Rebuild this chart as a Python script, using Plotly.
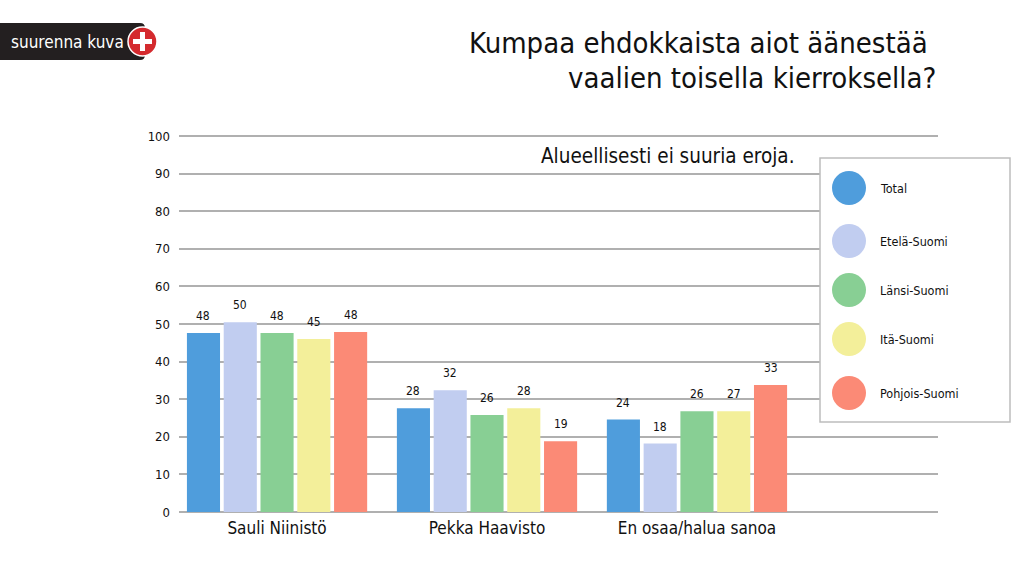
import plotly.graph_objects as go

# data
candidates = ['Sauli Niinistö', 'Pekka Haavisto', 'En osaa/halua sanoa']
regions = ['Total', 'Etelä-Suomi', 'Länsi-Suomi', 'Itä-Suomi', 'Pohjois-Suomi']
total = [47.6, 27.6, 24.6]
etela = [50.5, 32.4, 18.2]
lansi = [47.6, 25.8, 26.8]
ita = [46.0, 27.6, 26.8]
pohjois = [47.9, 18.8, 33.8]
label_total = ['48', '28', '24']
label_etela = ['50', '32', '18']
label_lansi = ['48', '26', '26']
label_ita = ['45', '28', '27']
label_pohjois = ['48', '19', '33']

colors = ['#4f9ddc', '#c1cdf0', '#88cf94', '#f3ef9a', '#fb8a76']
FONT = 'Liberation Sans Narrow, DejaVu Sans Condensed, sans-serif'

W, H = 1024, 576
L, R, T, B = 179, 938, 135, 512   # plot area in pixels
BARGAP = 0.124
SLOT = 210 * (1 - BARGAP) / 5     # pixel width of one bar slot in a group


# pixel -> paper coordinates, for the decorations only
def px(x):
    return (x - L) / (R - L)


def py(y):
    return (B - y) / (B - T)


fig = go.Figure()
series = [total, etela, lansi, ita, pohjois]
labels = [label_total, label_etela, label_lansi, label_ita, label_pohjois]
annotations = []
for i, (name, vals, txt, col) in enumerate(zip(regions, series, labels, colors)):
    fig.add_trace(go.Bar(x=candidates, y=vals, name=name,
                         marker=dict(color=col, line_width=0),
                         showlegend=False))
    # value labels floating a little above each bar
    for cat, v, t in zip(candidates, vals, txt):
        annotations.append(dict(x=cat, y=v, text=t, showarrow=False,
                                xshift=(i - 2) * SLOT, yshift=8,
                                xanchor='center', yanchor='bottom',
                                font=dict(size=12, color='#111', family=FONT)))

shapes = []

# hand made legend with big circles
shapes.append(dict(type='rect', xref='paper', yref='paper',
                   x0=px(820), x1=px(1010), y0=py(158), y1=py(422),
                   fillcolor='white', line=dict(color='#bdbdbd', width=1.5),
                   layer='above'))
legend_y = [188, 241, 290, 339, 393]
for name, col, ly in zip(regions, colors, legend_y):
    shapes.append(dict(type='circle', xref='paper', yref='paper',
                       x0=px(832), x1=px(866), y0=py(ly - 17), y1=py(ly + 17),
                       fillcolor=col, line_width=0, layer='above'))
    annotations.append(dict(text=name, xref='paper', yref='paper',
                            x=px(878), y=py(ly), xanchor='left', yanchor='middle',
                            showarrow=False,
                            font=dict(size=12.5, color='#111', family=FONT)))

# "suurenna kuva" button
shapes.append(dict(type='path', xref='paper', yref='paper',
                   path='M %f,%f L %f,%f Q %f,%f %f,%f L %f,%f Q %f,%f %f,%f L %f,%f Z' % (
                       px(-2), py(23), px(140), py(23), px(145), py(23), px(145), py(28),
                       px(145), py(55), px(145), py(60), px(140), py(60), px(-2), py(60)),
                   fillcolor='#231f20', line_width=0))
shapes.append(dict(type='circle', xref='paper', yref='paper',
                   x0=px(128), x1=px(157), y0=py(27), y1=py(56),
                   fillcolor='#d42a2e', line=dict(color='white', width=1.5)))
shapes.append(dict(type='line', xref='paper', yref='paper',
                   x0=px(133), x1=px(152), y0=py(41.5), y1=py(41.5),
                   line=dict(color='white', width=5)))
shapes.append(dict(type='line', xref='paper', yref='paper',
                   x0=px(142.5), x1=px(142.5), y0=py(32), y1=py(51),
                   line=dict(color='white', width=5)))
annotations.append(dict(text='suurenna kuva', xref='paper', yref='paper',
                        x=px(9), y=py(42), xanchor='left', yanchor='middle',
                        showarrow=False,
                        font=dict(size=17, color='white', family=FONT)))

# titles
annotations.append(dict(text='Kumpaa ehdokkaista aiot äänestää', xref='paper', yref='paper',
                        x=px(930), y=py(43), xanchor='right', yanchor='middle',
                        showarrow=False,
                        font=dict(size=29, color='#111', family=FONT)))
annotations.append(dict(text='vaalien toisella kierroksella?', xref='paper', yref='paper',
                        x=px(938), y=py(78), xanchor='right', yanchor='middle',
                        showarrow=False,
                        font=dict(size=29, color='#111', family=FONT)))
annotations.append(dict(text='Alueellisesti ei suuria eroja.', xref='paper', yref='paper',
                        x=px(797), y=py(156), xanchor='right', yanchor='middle',
                        showarrow=False,
                        font=dict(size=20.5, color='#111', family=FONT)))

fig.update_layout(
    width=W, height=H,
    margin=dict(l=L, r=W - R, t=T, b=H - B, pad=0),
    paper_bgcolor='white', plot_bgcolor='white',
    barmode='group', bargap=BARGAP, bargroupgap=0.1,
    font=dict(family=FONT, color='#111'),
    shapes=shapes, annotations=annotations,
)
fig.update_xaxes(range=[-0.467, 3.148], showgrid=False, showline=False,
                 ticks='', ticklabelstandoff=4,
                 tickfont=dict(size=17, color='#111', family=FONT))
fig.update_yaxes(range=[0, 100.3], tickvals=list(range(0, 101, 10)),
                 showgrid=True, gridcolor='#b0b0b0',
                 gridwidth=2, zeroline=True, zerolinecolor='#b0b0b0', zerolinewidth=2,
                 showline=False, ticks='', ticklabelstandoff=8,
                 tickfont=dict(size=13, color='#111', family=FONT))

# drop the default body margin so the figure fills the window
fig.write_html("out.html", config={'displayModeBar': False},
               post_script="document.body.style.margin='0';")
